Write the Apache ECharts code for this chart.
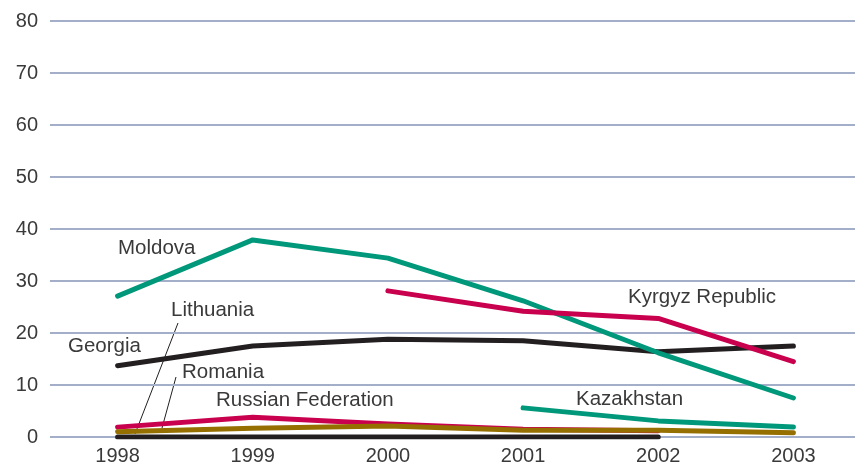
<!DOCTYPE html>
<html>
<head>
<meta charset="utf-8">
<script src="https://cdn.jsdelivr.net/npm/echarts@6/dist/echarts.min.js"></script>
<style>
  html, body { margin: 0; padding: 0; background: #fff; }
  #chart { width: 855px; height: 468px; }
</style>
</head>
<body>
<div id="chart"></div>
<script>
const years = ["1998", "1999", "2000", "2001", "2002", "2003"];
const yTicks = [0, 10, 20, 30, 40, 50, 60, 70, 80];

const moldova = [27.1, 37.9, 34.4, 26.2, 16.2, 7.5];
const kyrgyz = [null, null, 28.1, 24.2, 22.8, 14.5];
const georgia = [13.7, 17.5, 18.8, 18.5, 16.4, 17.5];
const kazakhstan = [null, null, null, 5.6, 3.1, 1.9];
const russia = [1.9, 3.8, 2.5, 1.5, 1.2, null];
const romania = [1.0, 1.7, 2.1, 1.3, 1.3, 0.8];
const lithuania = [0, 0, 0, 0, 0, null];

const TEAL = "#00987a";
const CRIMSON = "#c8004e";
const BLACK = "#231f20";
const BROWN = "#957000";
const TEXT = "#3a3a3a";
const FONT = "Liberation Sans";

function makeLine(name, data, color) {
  return {
    name,
    type: "line",
    data,
    symbol: "none",
    lineStyle: { color, width: 5, cap: "round", join: "round" },
    itemStyle: { color },
    emphasis: { disabled: true },
    animation: false,
  };
}

function label(text, x, y) {
  return {
    type: "text",
    left: x,
    top: y - 10,
    style: { text, fill: TEXT, font: `20.5px "${FONT}"` },
  };
}

function leader(x1, y1, x2, y2) {
  return {
    type: "line",
    shape: { x1, y1, x2, y2 },
    style: { stroke: BLACK, lineWidth: 1 },
  };
}

function bootstrap() {
  const chart = echarts.init(document.getElementById("chart"));
  chart.setOption({
    animation: false,
    grid: {
      left: 50,
      top: 21,
      width: 811,
      height: 416,
      outerBoundsMode: "none",
      containLabel: false,
    },
    xAxis: {
      type: "category",
      data: years,
      boundaryGap: true,
      axisLine: { show: false },
      axisTick: { show: false },
      axisLabel: { color: TEXT, fontFamily: FONT, fontSize: 20, margin: 9 },
    },
    yAxis: {
      type: "value",
      min: yTicks[0],
      max: yTicks[yTicks.length - 1],
      interval: 10,
      axisLine: { show: false },
      axisTick: { show: false },
      axisLabel: { color: TEXT, fontFamily: FONT, fontSize: 20, margin: 12 },
      splitLine: { lineStyle: { color: "#a3afc9", width: 2 } },
    },
    series: [
      makeLine("Lithuania", lithuania, BLACK),
      makeLine("Russian Federation", russia, CRIMSON),
      makeLine("Romania", romania, BROWN),
      makeLine("Kazakhstan", kazakhstan, TEAL),
      makeLine("Georgia", georgia, BLACK),
      makeLine("Moldova", moldova, TEAL),
      makeLine("Kyrgyz Republic", kyrgyz, CRIMSON),
    ],
    graphic: [
      label("Moldova", 118, 248),
      label("Kyrgyz Republic", 628, 297),
      label("Georgia", 68, 346),
      label("Lithuania", 171, 310),
      label("Romania", 182, 372),
      label("Russian Federation", 216, 400),
      label("Kazakhstan", 576, 399),
      leader(178, 323, 135, 434),
      leader(176, 377, 162, 428),
    ],
  });
}

window.addEventListener("DOMContentLoaded", bootstrap);
</script>
</body>
</html>
